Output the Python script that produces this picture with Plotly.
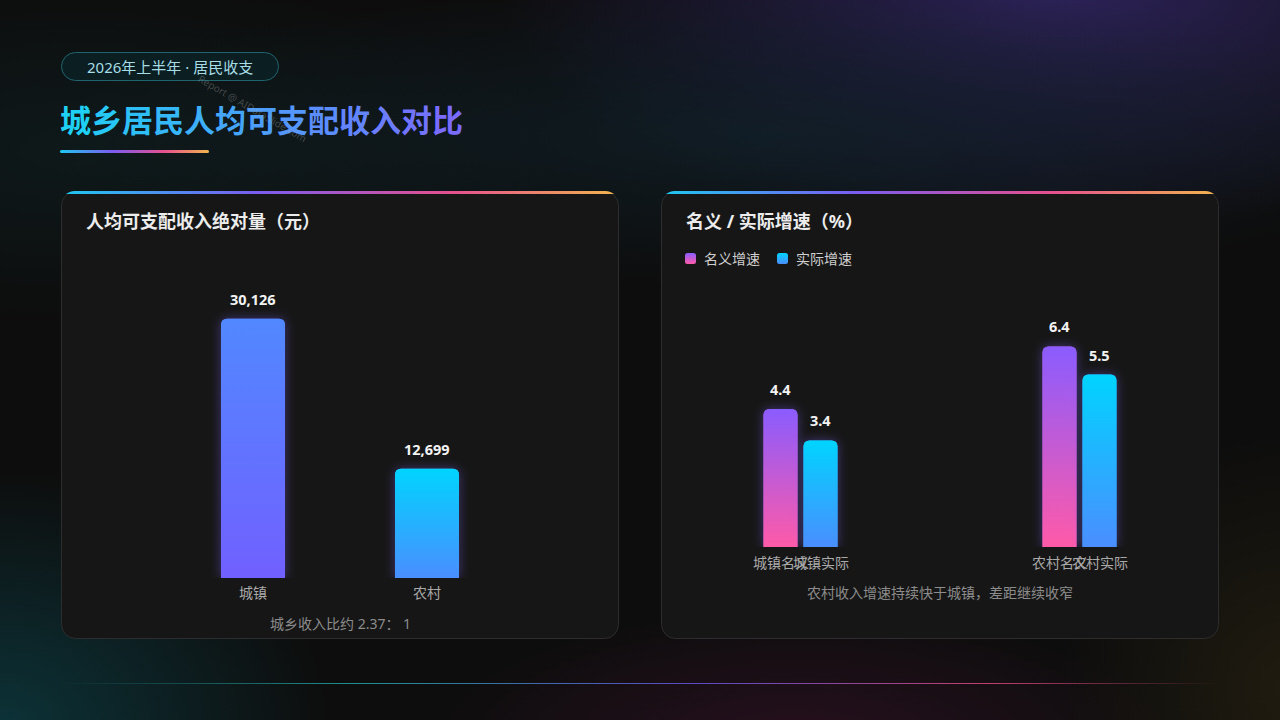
import base64
import plotly.graph_objects as go

W, H = 1280, 720

# ---------------- data ----------------
income_cats = ["城镇", "农村"]
income_vals = [30126, 12699]

growth_cats = ["城镇", "农村"]
growth_series = ["名义增速", "实际增速"]
growth_short = ["名义", "实际"]
nominal_growth = [4.4, 6.4]
real_growth = [3.4, 5.5]

tag_text = "2026年上半年 · 居民收支"
title_text = "城乡居民人均可支配收入对比"
left_title = "人均可支配收入绝对量（元）"
right_title = "名义 / 实际增速（%）"
left_note = "城乡收入比约 2.37： 1"
right_note = "农村收入增速持续快于城镇，差距继续收窄"
watermark = "Report @ AIDataSlide.com"

FONT = "Noto Sans, Noto Sans CJK SC, sans-serif"


def fx(p):
    return p / W


def fy(p):
    return 1 - p / H


def uri(svg):
    return "data:image/svg+xml;base64," + base64.b64encode(svg.encode("utf-8")).decode()


# ---------------- geometry (pixels) ----------------
L_X = (166, 514)
L_Y = (270, 578)
L_YMAX = 35800
R_X = (661, 1219)
R_Y = (290, 547)
R_YMAX = 8.2

ppux_L = (L_X[1] - L_X[0]) / 2
ppuy_L = (L_Y[1] - L_Y[0]) / L_YMAX
ppux_R = (R_X[1] - R_X[0]) / 2
ppuy_R = (R_Y[1] - R_Y[0]) / R_YMAX

L_BW = 64 / ppux_L
R_BW = 34 / ppux_R
R_OFF = [-37 / ppux_R, 3 / ppux_R]

# ---------------- background svg ----------------
def glow_ellipse(idn, cx, cy, rx, ry, color, op):
    d = (f'<radialGradient id="{idn}"><stop offset="0" stop-color="{color}" stop-opacity="{op}"/>'
         f'<stop offset="0.55" stop-color="{color}" stop-opacity="{op*0.45}"/>'
         f'<stop offset="1" stop-color="{color}" stop-opacity="0"/></radialGradient>')
    e = f'<ellipse cx="{cx}" cy="{cy}" rx="{rx}" ry="{ry}" fill="url(#{idn})"/>'
    return d, e


glows = [
    ("g1", 1060, -10, 560, 240, "#2c2258", 1.0),
    ("g2", 760, 135, 720, 150, "#10212a", 0.75),
    ("g3", 80, 150, 480, 170, "#0f2123", 0.6),
    ("g4", 0, 730, 330, 260, "#0c3338", 1.0),
    ("g5", 800, 745, 380, 140, "#2a1020", 0.9),
    ("g6", 1290, 690, 230, 260, "#221d10", 0.9),
]
defs = ""
ells = ""
for g in glows:
    d, e = glow_ellipse(*g)
    defs += d
    ells += e

bar_grad = ('<linearGradient id="hl" x1="0" y1="0" x2="1" y2="0">'
            '<stop offset="0" stop-color="#1ec8f0"/><stop offset="0.35" stop-color="#7b5cf0"/>'
            '<stop offset="0.7" stop-color="#e6508f"/><stop offset="1" stop-color="#f2b54e"/></linearGradient>')
bottom_grad = ('<linearGradient id="bl" x1="0" y1="0" x2="1" y2="0">'
               '<stop offset="0" stop-color="#1f8f8f" stop-opacity="0"/><stop offset="0.25" stop-color="#1f8f8f"/>'
               '<stop offset="0.55" stop-color="#5b4bc4"/><stop offset="0.8" stop-color="#c0406e"/>'
               '<stop offset="1" stop-color="#c0406e" stop-opacity="0"/></linearGradient>')
leg1 = ('<linearGradient id="lg1" x1="0" y1="0" x2="0" y2="1"><stop offset="0" stop-color="#8a5cff"/>'
        '<stop offset="1" stop-color="#ff5aa8"/></linearGradient>')
leg2 = ('<linearGradient id="lg2" x1="0" y1="0" x2="0" y2="1"><stop offset="0" stop-color="#00d4ff"/>'
        '<stop offset="1" stop-color="#4a8eff"/></linearGradient>')

panels = ""
clips = ""
for k, x0 in enumerate([61, 661]):
    clips += (f'<clipPath id="cp{k}"><rect x="{x0}" y="191" width="558" height="448" rx="14"/></clipPath>')
    panels += (f'<rect x="{x0 + 0.5}" y="191.5" width="557" height="447" rx="14" fill="#161616" '
               f'stroke="#2d2d2d" stroke-width="1"/>'
               f'<rect x="{x0}" y="191" width="558" height="3" fill="url(#hl)" clip-path="url(#cp{k})"/>')

bg_svg = (f'<svg xmlns="http://www.w3.org/2000/svg" width="{W}" height="{H}" viewBox="0 0 {W} {H}">'
          f'<defs>{defs}{bar_grad}{bottom_grad}{leg1}{leg2}{clips}</defs>'
          f'<rect x="0" y="0" width="{W}" height="{H}" fill="#0d0d0d"/>{ells}'
          f'<rect x="61.5" y="52.5" width="217" height="28" rx="14" fill="#0b2226" fill-opacity="0.8" '
          f'stroke="#1f6570" stroke-width="1"/>'
          f'<rect x="60" y="150" width="149" height="3" rx="1.5" fill="url(#hl)"/>'
          f'{panels}'
          f'<rect x="685" y="253" width="11" height="11" rx="2.5" fill="url(#lg1)"/>'
          f'<rect x="777" y="253" width="11" height="11" rx="2.5" fill="url(#lg2)"/>'
          f'<rect x="60" y="683" width="1160" height="1" fill="url(#bl)"/>'
          f'</svg>')


# ---------------- bar overlay svg ----------------
def bar_svg(w_px, h_px, pad, top, bottom):
    W2, H2 = w_px + 2 * pad, h_px + 2 * pad
    r = min(6.0, w_px / 2)
    x0, y0, x1, y1 = pad, pad, pad + w_px, pad + h_px
    path = (f"M{x0},{y1} L{x0},{y0 + r} Q{x0},{y0} {x0 + r},{y0} L{x1 - r},{y0} "
            f"Q{x1},{y0} {x1},{y0 + r} L{x1},{y1} Z")
    return (f'<svg xmlns="http://www.w3.org/2000/svg" width="{W2:.1f}" height="{H2:.1f}" '
            f'viewBox="0 0 {W2:.2f} {H2:.2f}" preserveAspectRatio="none"><defs>'
            f'<linearGradient id="g" x1="0" y1="0" x2="0" y2="1"><stop offset="0" stop-color="{top}"/>'
            f'<stop offset="1" stop-color="{bottom}"/></linearGradient>'
            f'<filter id="f" x="-60%" y="-60%" width="220%" height="220%">'
            f'<feGaussianBlur stdDeviation="{pad / 2.6:.1f}"/></filter></defs>'
            f'<path d="{path}" fill="#7d62ff" fill-opacity="0.42" filter="url(#f)"/>'
            f'<path d="{path}" fill="url(#g)"/></svg>')


PAD = 14
images = [dict(source=uri(bg_svg), xref="paper", yref="paper", x=0, y=1, sizex=1, sizey=1,
               xanchor="left", yanchor="top", sizing="stretch", layer="below")]

left_colors = [("#5188ff", "#7160ff"), ("#00d4ff", "#4a8eff")]
for i, v in enumerate(income_vals):
    w_px = L_BW * ppux_L
    h_px = v * ppuy_L
    images.append(dict(source=uri(bar_svg(w_px, h_px, PAD, *left_colors[i])), xref="x", yref="y",
                       x=i, y=-PAD / ppuy_L, sizex=(w_px + 2 * PAD) / ppux_L,
                       sizey=v + 2 * PAD / ppuy_L, xanchor="center", yanchor="bottom",
                       sizing="stretch", layer="above"))

right_colors = [("#8a5cff", "#ff5aa8"), ("#00d4ff", "#4a8eff")]
for s, vals in enumerate([nominal_growth, real_growth]):
    for i, v in enumerate(vals):
        w_px = R_BW * ppux_R
        h_px = v * ppuy_R
        cx = i + R_OFF[s] + R_BW / 2
        images.append(dict(source=uri(bar_svg(w_px, h_px, PAD, *right_colors[s])), xref="x2", yref="y2",
                           x=cx, y=-PAD / ppuy_R, sizex=(w_px + 2 * PAD) / ppux_R,
                           sizey=v + 2 * PAD / ppuy_R, xanchor="center", yanchor="bottom",
                           sizing="stretch", layer="above"))

# ---------------- traces ----------------
fig = go.Figure()
fig.add_trace(go.Bar(x=list(range(len(income_cats))), y=income_vals, width=L_BW,
                     marker=dict(color=["#6074ff", "#25b2ff"], cornerradius=6, line=dict(width=0)),
                     xaxis="x", yaxis="y", showlegend=False, hoverinfo="skip"))
for s, (name, vals, col) in enumerate(zip(growth_series, [nominal_growth, real_growth],
                                          ["#c45bd0", "#25b2ff"])):
    fig.add_trace(go.Bar(x=list(range(len(growth_cats))), y=vals, width=R_BW, offset=R_OFF[s],
                         name=name, marker=dict(color=col, cornerradius=6, line=dict(width=0)),
                         xaxis="x2", yaxis="y2", showlegend=False, hoverinfo="skip"))

# ---------------- annotations ----------------
ann = []


def add(text, x, y, size, color, xanchor="left", bold=False, **kw):
    ann.append(dict(text=f"<b>{text}</b>" if bold else text, x=fx(x), y=fy(y), xref="paper", yref="paper",
                    xanchor=xanchor, yanchor="middle", showarrow=False,
                    font=dict(family=FONT, size=size, color=color), **kw))


# tag pill
add(tag_text, 170, 67, 15, "#a6dde6", xanchor="center")

# gradient title (per-character colour)
c0 = (0x1f, 0xd0, 0xf5)
c1 = (0x7a, 0x6c, 0xff)
n = len(title_text)
spans = ""
for k, ch in enumerate(title_text):
    t = k / (n - 1)
    col = "#%02x%02x%02x" % tuple(round(a + (b - a) * t) for a, b in zip(c0, c1))
    spans += f"<span style='color:{col}'>{ch}</span>"
add(spans, 58, 120, 31, "#1fd0f5", bold=True)

# watermark
add(watermark, 252, 108, 10, "rgba(170,170,170,0.35)", xanchor="center", textangle=30)

# panel titles
add(left_title, 84, 221, 18, "#ececec", bold=True)
add(right_title, 684, 221, 18, "#ececec", bold=True)

# legend labels
add(growth_series[0], 702, 258, 14, "#cfcfcf")
add(growth_series[1], 794, 258, 14, "#cfcfcf")

# notes
add(left_note, 340, 623, 14, "#8c8c8c", xanchor="center")
add(right_note, 940, 592, 14, "#8c8c8c", xanchor="center")

# value labels
for i, v in enumerate(income_vals):
    ann.append(dict(text=f"<b>{v:,}</b>", x=i, y=v, xref="x", yref="y", xanchor="center",
                    yanchor="bottom", yshift=8, showarrow=False,
                    font=dict(family=FONT, size=14.5, color="#f2f2f2")))
for s, vals in enumerate([nominal_growth, real_growth]):
    for i, v in enumerate(vals):
        cx = i + R_OFF[s] + R_BW / 2
        ann.append(dict(text=f"<b>{v}</b>", x=cx, y=v, xref="x2", yref="y2", xanchor="center",
                        yanchor="bottom", yshift=8, showarrow=False,
                        font=dict(family=FONT, size=14.5, color="#f2f2f2")))
        ann.append(dict(text=growth_cats[i] + growth_short[s], x=cx, y=0, xref="x2", yref="y2",
                        xanchor="center", yanchor="middle", yshift=-15, showarrow=False,
                        font=dict(family=FONT, size=14, color="#a9a9a9")))

axis_common = dict(showgrid=False, zeroline=False, showline=False, fixedrange=True)
fig.update_layout(
    width=W, height=H, margin=dict(l=0, r=0, t=0, b=0),
    paper_bgcolor="#0d0d0d", plot_bgcolor="rgba(0,0,0,0)",
    barmode="overlay", showlegend=False,
    xaxis=dict(domain=[fx(L_X[0]), fx(L_X[1])], range=[-0.5, 1.5], tickvals=list(range(len(income_cats))),
               ticktext=income_cats, ticks="", ticklabelstandoff=5,
               tickfont=dict(family=FONT, size=14, color="#a9a9a9"),
               anchor="y", **axis_common),
    yaxis=dict(domain=[fy(L_Y[1]), fy(L_Y[0])], range=[0, L_YMAX], showticklabels=False,
               anchor="x", **axis_common),
    xaxis2=dict(domain=[fx(R_X[0]), fx(R_X[1])], range=[-0.5, 1.5], showticklabels=False,
                anchor="y2", **axis_common),
    yaxis2=dict(domain=[fy(R_Y[1]), fy(R_Y[0])], range=[0, R_YMAX], showticklabels=False,
                anchor="x2", **axis_common),
    images=images,
    annotations=ann,
    hovermode=False,
)

fig.write_html("out.html", config={"displayModeBar": False},
               post_script="document.body.style.margin='0';document.body.style.overflow='hidden';"
                           "document.body.style.background='#0d0d0d';")
